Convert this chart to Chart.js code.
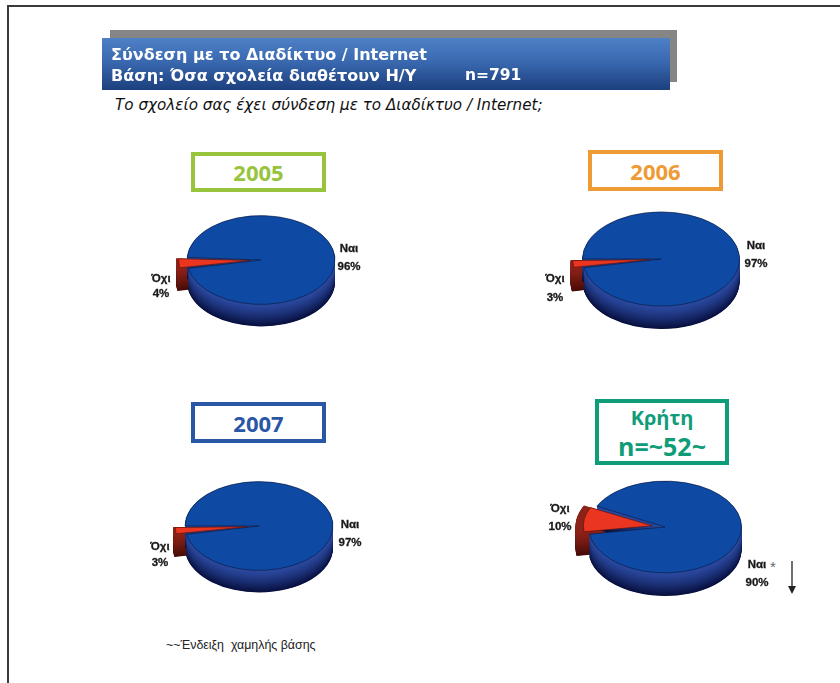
<!DOCTYPE html>
<html lang="el"><head><meta charset="utf-8">
<style>
html,body{margin:0;padding:0;background:#fff}
body{position:relative;width:840px;height:683px;overflow:hidden;font-family:"DejaVu Sans",sans-serif}
.abs{position:absolute;white-space:pre}
#frame{left:7px;top:5px;width:840px;height:700px;border:2px solid #3a3a3a;box-sizing:border-box}
#shadow{left:110px;top:30px;width:567px;height:52px;background:#858585}
#banner{left:102px;top:38px;width:568px;height:52px;background:linear-gradient(#4e80c6,#3a69b0 45%,#1c3f7e)}
.ttl{color:#fff;font-weight:700;font-size:16px;line-height:17px;filter:blur(.3px)}
#q{left:115px;top:96px;font:oblique 15.2px "DejaVu Sans",sans-serif;color:#111}
.box{position:absolute;box-sizing:border-box;border:4px solid;background:#fff;display:flex;flex-direction:column;align-items:center;justify-content:center;text-align:center;font-weight:700;font-family:"Open Sans",sans-serif}
canvas{position:absolute}
.lbl{position:absolute;font:700 11.5px "Liberation Sans",sans-serif;color:#181818;text-align:center;white-space:pre;-webkit-text-stroke:.3px #181818}
#note{left:166px;top:638px;font:12.4px "Liberation Sans",sans-serif;color:#222}
#star{left:770px;top:558px;font:15px "Liberation Sans",sans-serif;color:#666}
</style></head><body>
<div class="abs" id="frame"></div>
<div class="abs" id="shadow"></div>
<div class="abs" id="banner"></div>
<div class="abs ttl" style="left:111px;top:46px">Σύνδεση με το Διαδίκτυο / Internet</div>
<div class="abs ttl" style="left:111px;top:67px">Βάση: Όσα σχολεία διαθέτουν Η/Υ</div>
<div class="abs ttl" style="left:465px;top:67px;font-size:15.5px">n=791</div>
<div class="abs" id="q">Το σχολείο σας έχει σύνδεση με το Διαδίκτυο / Internet;</div>
<div class="abs" id="note">~~Ένδειξη  χαμηλής βάσης</div>
<div class="abs" id="star">*</div>
<svg class="abs" style="left:786px;top:560px" width="12" height="36"><path d="M6 1V28" stroke="#222" stroke-width="1.3"/><path d="M2 26H10L6 34Z" fill="#222"/></svg>
<script src="https://cdn.jsdelivr.net/npm/chart.js@4"></script>
<script>
const categories = ['Ναι', 'Όχι'];
const values2005 = [96, 4];
const values2006 = [97, 3];
const values2007 = [97, 3];
const valuesCrete = [90, 10];
const titles = ['2005', '2006', '2007', 'Κρήτη\nn=~52~'];

const TILT = 0.6;
function mix(a,b,t){return 'rgb('+a.map((v,i)=>Math.round(v+(b[i]-v)*t)).join(',')+')';}
const SIDE = [[[44,74,160],[8,16,62]], [[140,34,24],[70,12,8]]];

const tilt3d = {
  id:'tilt3d',
  afterDatasetsUpdate(chart,args,opts){
    // Chart.js grows an offset arc's radius as well as moving it: keep only the move
    const red = chart.getDatasetMeta(0).data[1];
    red.outerRadius = chart.getDatasetMeta(0).data[0].outerRadius - opts.offset;
  },
  beforeDatasetsDraw(chart,args,opts){
    const ctx = chart.ctx, arcs = chart.getDatasetMeta(0).data;
    const cy = arcs[0].y, depth = opts.depth/TILT;
    ctx.save();
    ctx.translate(0,cy); ctx.scale(1,TILT); ctx.translate(0,-cy);
    [1,0].forEach(i=>{
      const a = arcs[i], mid = (a.startAngle+a.endAngle)/2;
      const ox = i ? Math.cos(mid)*opts.offset : 0;
      const oy = i ? Math.sin(mid)*opts.offset : 0;
      const rad = arcs[0].outerRadius;
      for(let d=depth;d>0;d-=0.8){
        ctx.beginPath();
        ctx.moveTo(a.x+ox,a.y+oy+d);
        ctx.arc(a.x+ox,a.y+oy+d,rad,a.startAngle,a.endAngle);
        ctx.closePath();
        ctx.fillStyle = mix(SIDE[i][0],SIDE[i][1],Math.pow(d/depth,1.3));
        ctx.fill();
      }
    });
  },
  afterDatasetsDraw(chart){ chart.ctx.restore(); }
};

function pie(box, values, cfg){
  const c = document.createElement('canvas');
  c.style.left = box.x+'px'; c.style.top = box.y+'px';
  c.style.width = box.w+'px'; c.style.height = box.h+'px';
  c.width = box.w; c.height = box.h;
  document.body.appendChild(c);
  new Chart(c,{
    type:'pie',
    data:{labels:categories,datasets:[{data:values,
      backgroundColor:['#0e49a4','#ea3520'],
      borderColor:['#0a1a40','#5a1208'],borderWidth:0.8,
      offset:[0,cfg.offset*4]}]},
    options:{responsive:false,animation:false,events:[],rotation:cfg.rotation,radius:cfg.r,
      layout:{padding:0},
      plugins:{legend:{display:false},tooltip:{enabled:false},
        tilt3d:{depth:cfg.depth,offset:cfg.offset}}},
    plugins:[tilt3d]
  });
}
const S = 260;
function at(cx,cy){return {x:cx-S/2,y:cy-S/2,w:S,h:S};}
pie(at(261,260),values2005,{r:74,rotation:-86.6,offset:11,depth:22});
pie(at(660.5,259),values2006,{r:78.5,rotation:-90,offset:12,depth:23});
pie(at(259,526),values2007,{r:74,rotation:-90,offset:12,depth:22});
pie(at(664.5,527),valuesCrete,{r:76.5,rotation:-63,offset:13,depth:23});

function box(x,y,w,h,color,sizes,text){
  const d=document.createElement('div');d.className='box';
  d.style.cssText=`left:${x}px;top:${y}px;width:${w}px;height:${h}px;border-color:${color};color:${color}`;
  text.split('\n').forEach((t,i)=>{
    const s=document.createElement('div');
    s.style.cssText=`font-size:${sizes[i]}px;line-height:28px;white-space:pre`;
    s.textContent=t;d.appendChild(s);
  });
  document.body.appendChild(d);
}
box(191,152,135,40,'#97c43c',[22],titles[0]);
box(588,150,135,41,'#ee9a35',[22],titles[1]);
box(191,402,135,41,'#2a56a6',[22],titles[2]);
box(595,399,134,66,'#0f9c78',[20,25],titles[3]);

function lbl(cx,y1,y2,name,v){
  const d=document.createElement('div');d.className='lbl';
  const lh=y2-y1;
  d.style.cssText=`left:${cx-30}px;top:${y1-lh/2}px;width:60px;line-height:${lh}px`;
  d.textContent=name+'\n'+v+'%';document.body.appendChild(d);
}
lbl(349,248,266,categories[0],values2005[0]);
lbl(161,278,293,categories[1],values2005[1]);
lbl(756,245,263,categories[0],values2006[0]);
lbl(555,278,297,categories[1],values2006[1]);
lbl(350,524,542,categories[0],values2007[0]);
lbl(160,546,562,categories[1],values2007[1]);
lbl(757,564,582,categories[0],valuesCrete[0]);
lbl(560,508,526,categories[1],valuesCrete[1]);
</script>
</body></html>
